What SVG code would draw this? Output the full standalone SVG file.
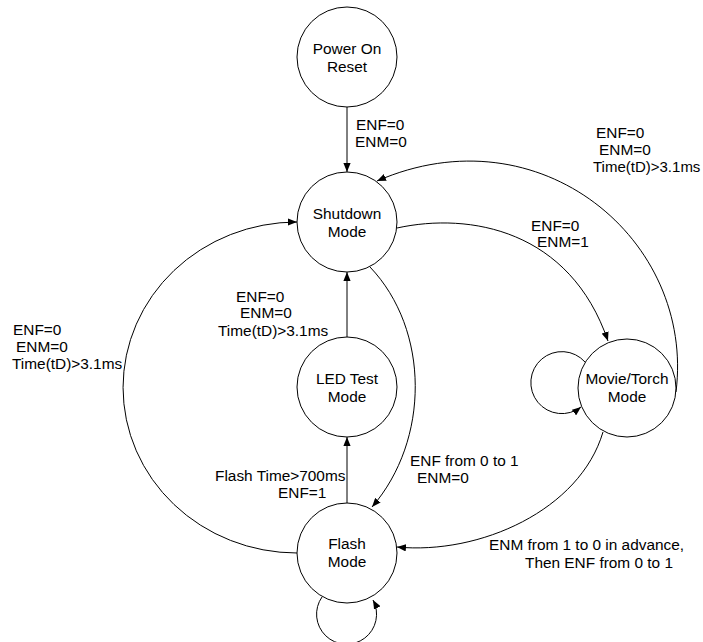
<svg xmlns="http://www.w3.org/2000/svg" width="703" height="642" viewBox="0 0 703 642">
<style>
.n{fill:#fff;stroke:#000;stroke-width:1}
.t{font-family:"Liberation Sans",Arial,sans-serif;font-size:15.4px;fill:#000}
.c{text-anchor:middle}
.e{fill:none;stroke:#000;stroke-width:1;marker-end:url(#ah)}
</style>
<defs>
<marker id="ah" viewBox="0 0 10 8" refX="10" refY="4" markerWidth="9" markerHeight="7.2" orient="auto" markerUnits="userSpaceOnUse">
<path d="M0,0 L10,4 L0,8 z" fill="#000"/>
</marker>
</defs>
<rect width="703" height="642" fill="#fff"/>
<g id="connectors">
<path class="e" d="M347,107 L347,172"/>
<path class="e" d="M347,337 L347,272"/>
<path class="e" d="M347,503 L347,437"/>
<path class="e" d="M297,553 A174,165.5 0 0 1 297,222"/>
<path class="e" d="M370,267 C430,330 430,440 372,507"/>
<path class="e" d="M397,228 C470,212 570,230 608,341"/>
<path class="e" d="M676,392 C695,240 540,110 377,181"/>
<path class="e" d="M603,432 C580,510 480,555 397,547"/>
<path class="e" d="M585,362 A31,31 0 1 0 581,407"/>
<path class="e" d="M322,597 A30,30 0 1 0 373,600"/>
</g>
<g id="labels" class="t">
<text x="356" y="130">ENF=0</text>
<text x="355" y="147">ENM=0</text>
<text x="596" y="138">ENF=0</text>
<text x="599" y="155">ENM=0</text>
<text x="593" y="172" style="font-size:15px">Time(tD)&gt;3.1ms</text>
<text x="531" y="231">ENF=0</text>
<text x="537" y="247">ENM=1</text>
<text x="13" y="335">ENF=0</text>
<text x="16" y="352">ENM=0</text>
<text x="12" y="369">Time(tD)&gt;3.1ms</text>
<text x="236" y="302">ENF=0</text>
<text x="240" y="318">ENM=0</text>
<text x="218" y="336">Time(tD)&gt;3.1ms</text>
<text x="215" y="481">Flash Time&gt;700ms</text>
<text x="278" y="498">ENF=1</text>
<text x="410" y="466">ENF from 0 to 1</text>
<text x="417" y="483">ENM=0</text>
<text x="489" y="550">ENM from 1 to 0 in advance,</text>
<text x="525" y="568">Then ENF from 0 to 1</text>
</g>
<g id="por"><circle class="n" cx="347" cy="57" r="50"/><text class="t c" x="347" y="54">Power On</text><text class="t c" x="347" y="72">Reset</text></g>
<g id="shutdown"><circle class="n" cx="347" cy="222" r="50"/><text class="t c" x="347" y="219">Shutdown</text><text class="t c" x="347" y="237">Mode</text></g>
<g id="ledtest"><circle class="n" cx="347" cy="387" r="50"/><text class="t c" x="347" y="384">LED Test</text><text class="t c" x="347" y="402">Mode</text></g>
<g id="movie"><circle class="n" cx="627" cy="388" r="49"/><text class="t c" x="627" y="384">Movie/Torch</text><text class="t c" x="627" y="402">Mode</text></g>
<g id="flash"><circle class="n" cx="347" cy="553" r="50"/><text class="t c" x="347" y="549">Flash</text><text class="t c" x="347" y="567">Mode</text></g>
</svg>
